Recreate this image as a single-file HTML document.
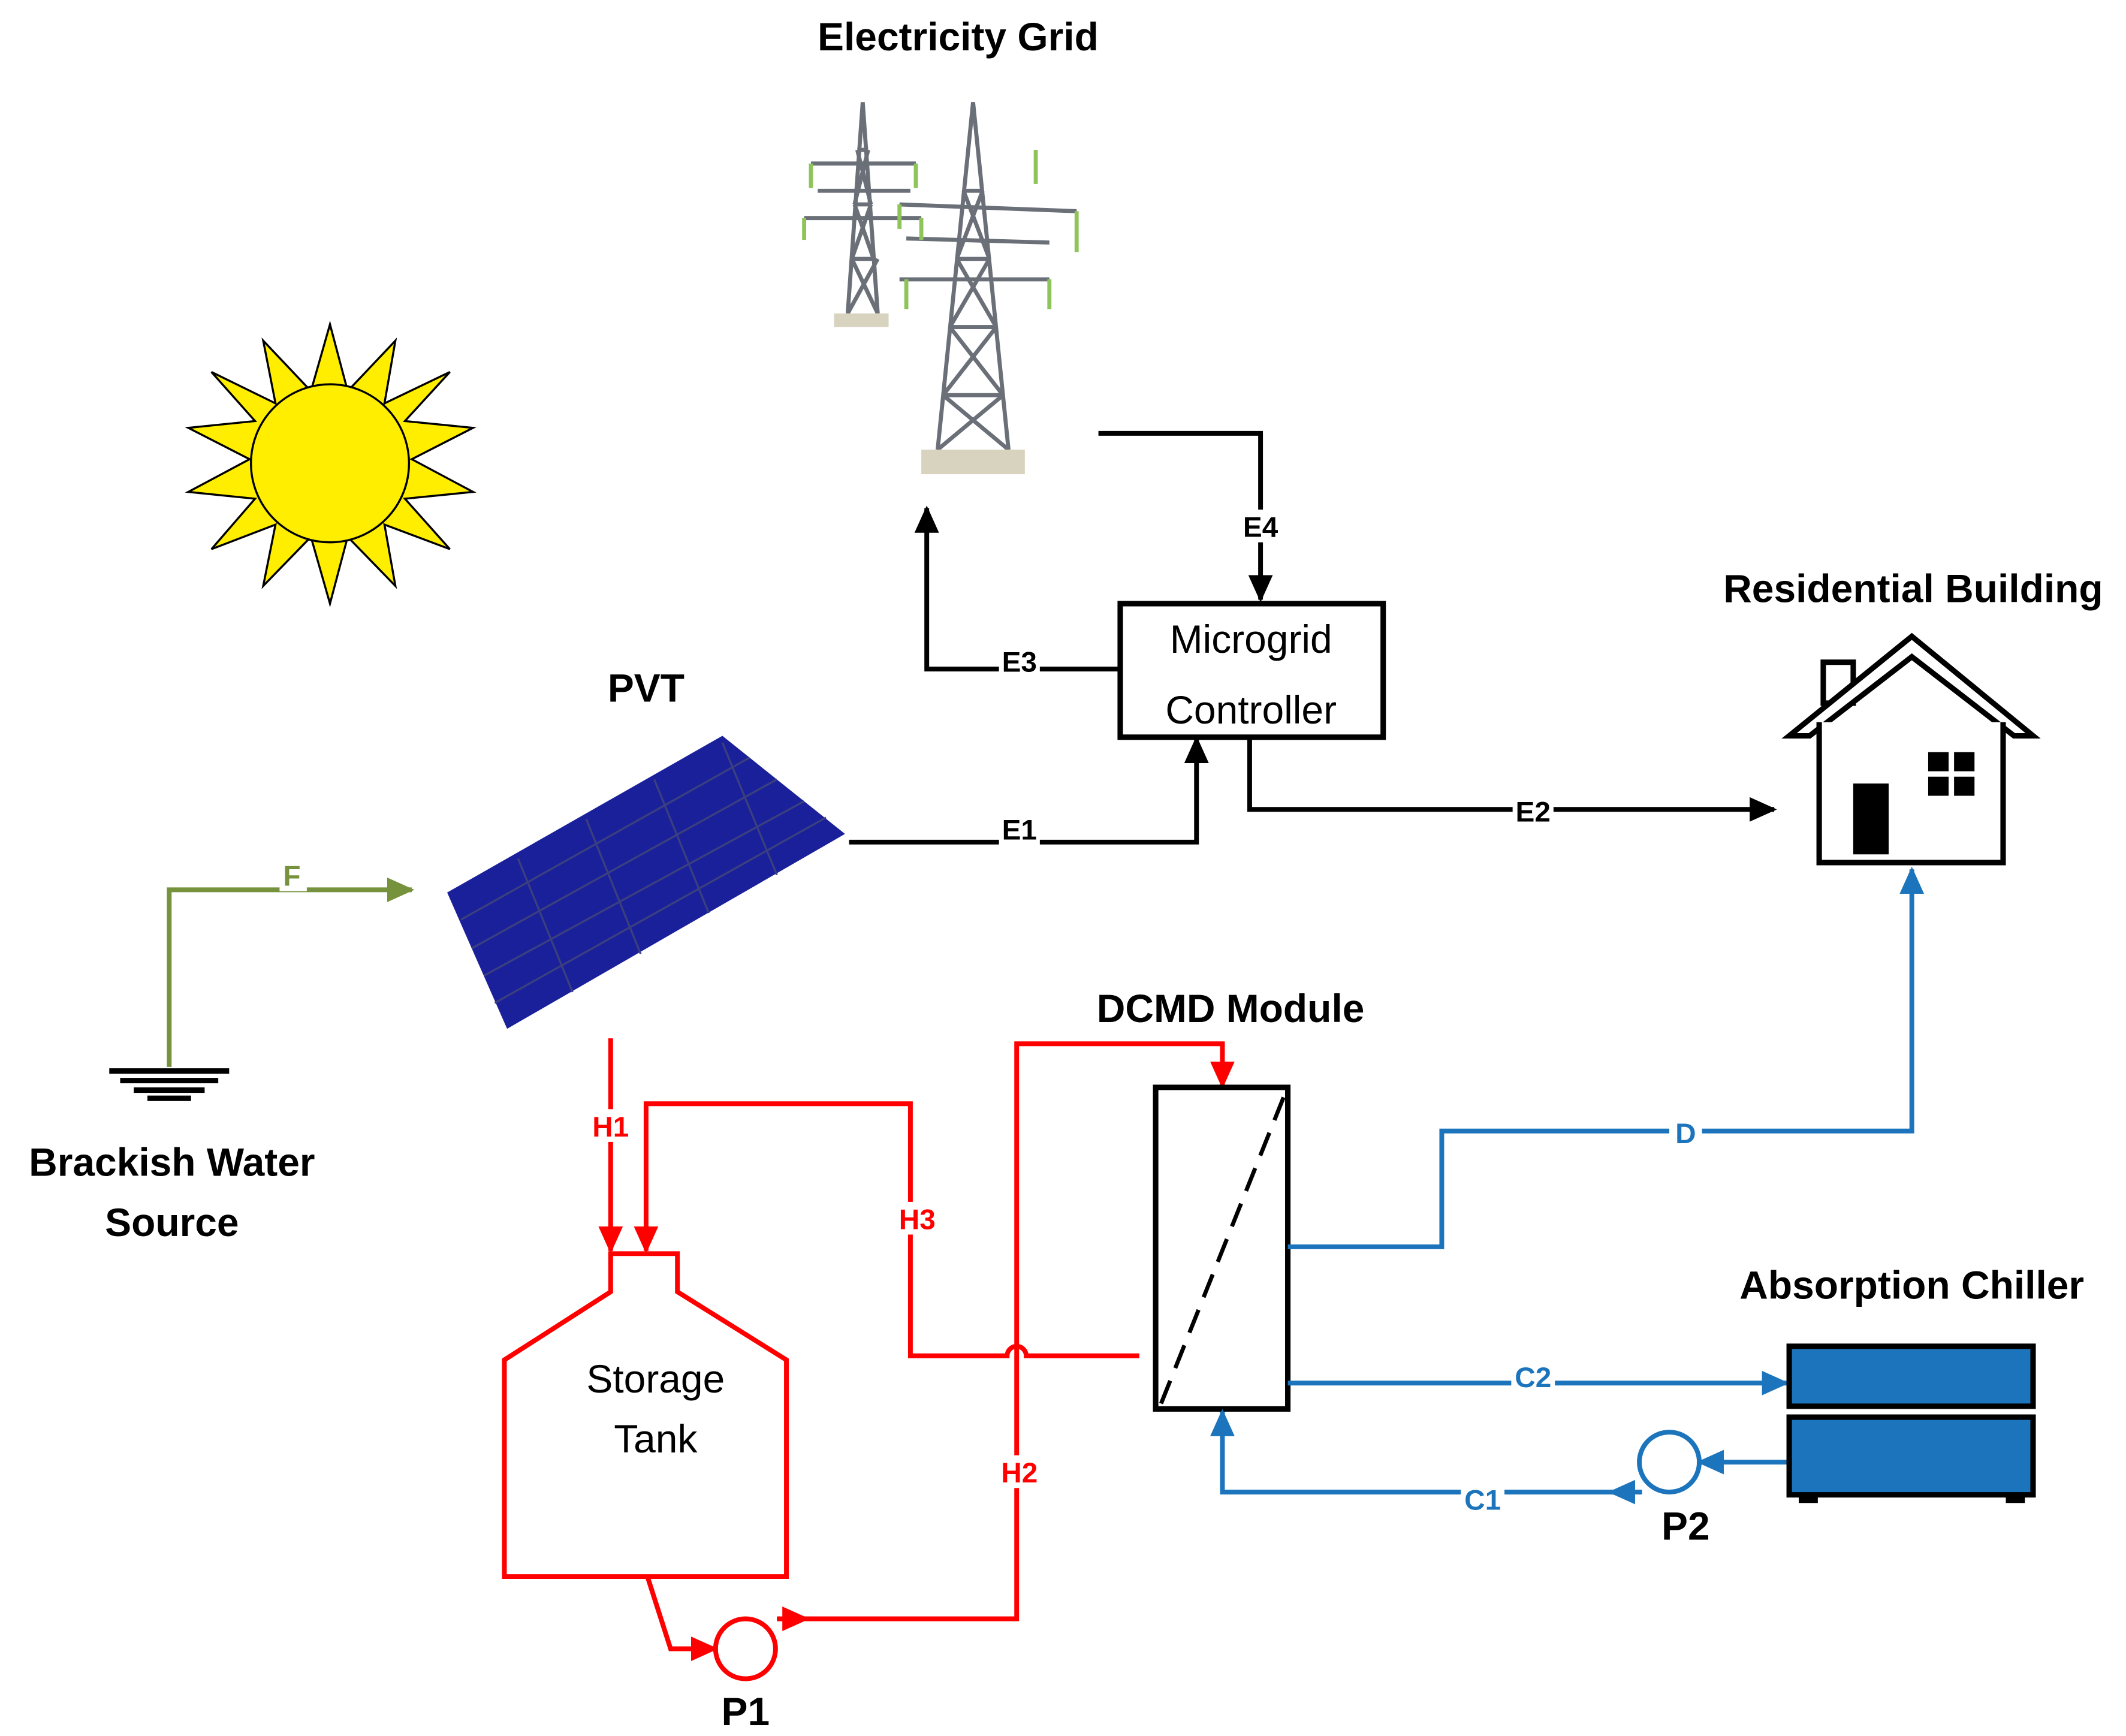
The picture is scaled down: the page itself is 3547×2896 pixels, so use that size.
<!DOCTYPE html>
<html><head><meta charset="utf-8"><style>
html,body{margin:0;padding:0;background:#fff;}
svg{display:block;}
text{font-family:"Liberation Sans",sans-serif;font-weight:bold;}
</style></head><body>
<svg width="3547" height="2896" viewBox="0 0 1560 1274" xmlns="http://www.w3.org/2000/svg">
<defs>
<marker id="ak" markerWidth="20" markerHeight="18" refX="18" refY="9" orient="auto" markerUnits="userSpaceOnUse"><path d="M0,0 L20,9 L0,18 z" fill="#000"/></marker>
<marker id="ar" markerWidth="20" markerHeight="18" refX="18" refY="9" orient="auto" markerUnits="userSpaceOnUse"><path d="M0,0 L20,9 L0,18 z" fill="#f00"/></marker>
<marker id="ab" markerWidth="20" markerHeight="18" refX="18" refY="9" orient="auto" markerUnits="userSpaceOnUse"><path d="M0,0 L20,9 L0,18 z" fill="#1c75bc"/></marker>
<marker id="ag" markerWidth="20" markerHeight="18" refX="18" refY="9" orient="auto" markerUnits="userSpaceOnUse"><path d="M0,0 L20,9 L0,18 z" fill="#76923c"/></marker>
</defs>
<style>
.ak{marker-end:url(#ak)} .big{font-size:29px} .lb{font-size:21px}
</style>

<text x="703" y="37" class="big" text-anchor="middle">Electricity Grid</text>
<text x="474" y="515" class="big" text-anchor="middle">PVT</text>
<text x="1404" y="442" class="big" text-anchor="middle">Residential Building</text>
<text x="903" y="750" class="big" text-anchor="middle">DCMD Module</text>
<text x="1403" y="953" class="big" text-anchor="middle">Absorption Chiller</text>
<text x="126" y="863" class="big" text-anchor="middle">Brackish Water</text>
<text x="126" y="907" class="big" text-anchor="middle">Source</text>

<g stroke="#6b7078" stroke-width="3" fill="none">
  <path d="M622,230 L633,75 L644,230 M625,190 L641,190 M627,150 L639,150 M629,110 L637,110 M622,230 L644,190 M644,230 L625,190 M625,190 L639,150 M641,190 L627,150 M627,150 L637,110 M639,150 L629,110"/>
  <path d="M595,120 L672,120 M600,140 L668,140 M590,160 L676,160"/>
  <path d="M688,330 L714,75 L740,330 M692,290 L736,290 M697,240 L731,240 M702,190 L726,190 M707,140 L721,140 M688,330 L736,290 M740,330 L692,290 M692,290 L731,240 M736,290 L697,240 M697,240 L726,190 M731,240 L702,190 M702,190 L721,140 M726,190 L707,140"/>
  <path d="M660,150 L790,155 M665,175 L770,178 M660,205 L770,205"/>
</g>
<g stroke="#8fc45a" stroke-width="3" fill="none">
  <path d="M595,120 v18 M672,120 v18 M590,160 v16 M676,160 v16 M660,150 v18 M790,155 v30 M665,205 v22 M770,205 v22 M760,110 v25"/>
</g>
<rect x="612" y="230" width="40" height="10" fill="#d8d3bf"/>
<rect x="676" y="330" width="76" height="18" fill="#d8d3bf"/>

<g fill="#ffee00" stroke="#000" stroke-width="1.5">
<polygon points="242,238 255,287 290,250 282,296 330,273 297,309 347,314 302,337 347,361 297,366 330,403 282,385 290,430 255,394 242,443 228,394 193,430 202,385 155,403 187,366 138,361 183,337 138,314 187,309 155,273 202,296 193,250 228,287"/>
<circle cx="242" cy="340" r="58"/>
</g>

<polygon points="328,655 530,540 620,612 372,755" fill="#1a1f9a"/>
<g stroke="#3a3f80" stroke-width="1.5">
<line x1="338" y1="675" x2="550" y2="556"/><line x1="346" y1="696" x2="570" y2="572"/><line x1="355" y1="716" x2="590" y2="588"/><line x1="363" y1="736" x2="606" y2="600"/>
<line x1="380" y1="630" x2="420" y2="728"/><line x1="430" y1="601" x2="470" y2="700"/><line x1="480" y1="572" x2="520" y2="670"/><line x1="530" y1="545" x2="570" y2="642"/>
</g>

<rect x="822" y="443" width="193" height="98" fill="#fff" stroke="#000" stroke-width="4"/>
<text x="918" y="479" class="big" text-anchor="middle" style="font-weight:normal">Microgrid</text>
<text x="918" y="531" class="big" text-anchor="middle" style="font-weight:normal">Controller</text>

<g fill="none" stroke="#000" stroke-width="3.5">
<path class="ak" d="M806,318 H925 V440"/>
<path class="ak" d="M822,491 H680 V373"/>
<path class="ak" d="M623,618 H878 V542"/>
<path class="ak" d="M917,541 V594 H1302"/>
</g>
<g class="lb">
<rect x="910" y="374" width="30" height="24" fill="#fff"/><text x="925" y="394" text-anchor="middle">E4</text>
<rect x="733" y="473" width="30" height="24" fill="#fff"/><text x="748" y="493" text-anchor="middle">E3</text>
<rect x="733" y="596" width="30" height="24" fill="#fff"/><text x="748" y="616" text-anchor="middle">E1</text>
<rect x="1110" y="583" width="30" height="24" fill="#fff"/><text x="1125" y="603" text-anchor="middle">E2</text>
</g>

<g fill="#fff" stroke="#000" stroke-width="4">
<rect x="1338" y="486" width="22" height="30"/>
<polygon points="1313,540 1403,467 1492,540 1478,540 1403,482 1328,540"/>
<path d="M1335,530 V633 H1470 V530"/>
</g>
<rect x="1360" y="575" width="26" height="52" fill="#000"/>
<rect x="1415" y="552" width="15" height="14" fill="#000"/><rect x="1434" y="552" width="15" height="14" fill="#000"/>
<rect x="1415" y="570" width="15" height="14" fill="#000"/><rect x="1434" y="570" width="15" height="14" fill="#000"/>

<path d="M124,783 V653 H302" fill="none" stroke="#76923c" stroke-width="3.5" marker-end="url(#ag)"/>
<rect x="205" y="630" width="20" height="24" fill="#fff"/>
<text x="214" y="650" class="lb" fill="#76923c" text-anchor="middle">F</text>
<g stroke="#000" stroke-width="4"><line x1="80" y1="786" x2="168" y2="786"/><line x1="88" y1="793" x2="160" y2="793"/><line x1="98" y1="800" x2="150" y2="800"/><line x1="108" y1="806" x2="140" y2="806"/></g>

<g fill="none" stroke="#f00" stroke-width="3.5">
<path d="M448,762 V918" marker-end="url(#ar)"/>
<path d="M836,995 H753 A7,7 0 0 0 739,995 H668 V810 H474 V918" marker-end="url(#ar)"/>
<polygon points="448,920 497,920 497,948 577,998 577,1157 370,1157 370,998 448,948"/>
<path d="M475,1157 L492,1210 H525" marker-end="url(#ar)"/>
<circle cx="547" cy="1210" r="22"/>
<path d="M570,1188 H592" marker-end="url(#ar)"/>
<path d="M575,1188 H746 V766 H897 V797" marker-end="url(#ar)"/>
</g>
<g class="lb" fill="#f00">
<rect x="432" y="814" width="32" height="24" fill="#fff"/><text x="448" y="834" text-anchor="middle">H1</text>
<rect x="657" y="882" width="32" height="24" fill="#fff"/><text x="673" y="902" text-anchor="middle">H3</text>
<rect x="732" y="1068" width="32" height="24" fill="#fff"/><text x="748" y="1088" text-anchor="middle">H2</text>
</g>
<text x="481" y="1022" class="big" text-anchor="middle" style="font-weight:normal">Storage</text>
<text x="481" y="1066" class="big" text-anchor="middle" style="font-weight:normal">Tank</text>
<text x="547" y="1266" class="big" text-anchor="middle">P1</text>

<rect x="848" y="798" width="97" height="236" fill="#fff" stroke="#000" stroke-width="4"/>
<line x1="852" y1="1030" x2="942" y2="805" stroke="#000" stroke-width="3" stroke-dasharray="18,10"/>

<g fill="none" stroke="#1c75bc" stroke-width="3.5">
<path d="M945,915 H1058 V830 H1403 V638" marker-end="url(#ab)"/>
<path d="M945,1015 H1311" marker-end="url(#ab)"/>
<path d="M1313,1073 H1247" marker-end="url(#ab)"/>
<circle cx="1225" cy="1073" r="22"/>
<path d="M1205,1095 H1182" marker-end="url(#ab)"/>
<path d="M1190,1095 H897 V1036" marker-end="url(#ab)"/>
</g>
<g class="lb" fill="#1c75bc">
<rect x="1225" y="819" width="24" height="24" fill="#fff"/><text x="1237" y="839" text-anchor="middle">D</text>
<rect x="1109" y="998" width="32" height="24" fill="#fff"/><text x="1125" y="1018" text-anchor="middle">C2</text>
<rect x="1072" y="1088" width="32" height="24" fill="#fff"/><text x="1088" y="1108" text-anchor="middle">C1</text>
</g>
<text x="1237" y="1130" class="big" text-anchor="middle">P2</text>

<rect x="1313" y="988" width="179" height="44" fill="#1c75bc" stroke="#000" stroke-width="4"/>
<rect x="1313" y="1040" width="179" height="57" fill="#1c75bc" stroke="#000" stroke-width="4"/>
<rect x="1320" y="1097" width="14" height="6" fill="#000"/><rect x="1472" y="1097" width="14" height="6" fill="#000"/>
</svg>
</body></html>
